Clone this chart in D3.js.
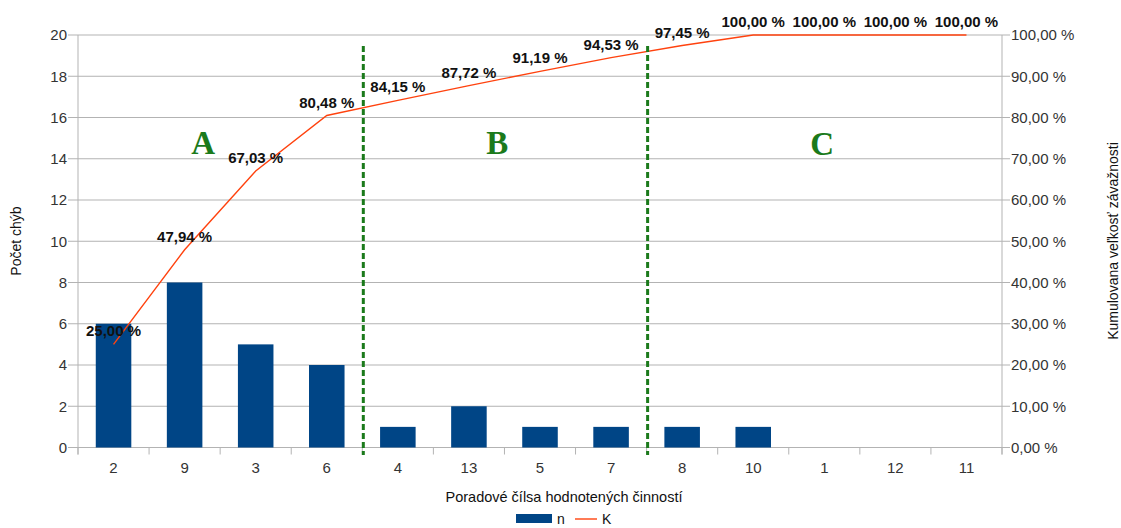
<!DOCTYPE html>
<html><head><meta charset="utf-8">
<script src="https://cdn.jsdelivr.net/npm/d3@7"></script>
<style>body{margin:0;background:#fff}svg{display:block;font-family:"Liberation Sans",Arial,sans-serif}</style>
</head><body><svg id="c" width="1121" height="528"></svg>
<script>
const categories = ["2","9","3","6","4","13","5","7","8","10","1","12","11"];
const nValues = [6,8,5,4,1,2,1,1,1,1,0,0,0];
const kValues = [25.00,47.94,67.03,80.48,84.15,87.72,91.19,94.53,97.45,100.00,100.00,100.00,100.00];
const leftTicks = [0,2,4,6,8,10,12,14,16,18,20];
const rightTicks = [0,10,20,30,40,50,60,70,80,90,100];
const zones = [{label:"A", from:0, to:4},{label:"B", from:4, to:8},{label:"C", from:8, to:13}];
const zoneLabelPos = [{label:"A", at:1.76, v:14.25},{label:"B", at:5.9, v:14.25},{label:"C", at:10.47, v:14.2}];

const svg = d3.select("#c");
const L = 78, R = 1002, T = 35, B = 447.5;
const x = d3.scaleBand().domain(categories).range([L,R]).paddingInner(0.5).paddingOuter(0.25);
const xb = d3.scaleLinear().domain([0,categories.length]).range([L,R]);
const y = d3.scaleLinear().domain([0,20]).range([B,T]);
const y2 = d3.scaleLinear().domain([0,100]).range([B,T]);
const grid = "#b3b3b3", txt = "#333";
const fmt = v => d3.format(".2f")(v).replace(".", ",") + " %";

// gridlines
svg.append("g").selectAll("line").data(leftTicks).join("line")
  .attr("x1", L-10).attr("x2", R).attr("y1", d=>y(d)).attr("y2", d=>y(d))
  .attr("stroke", grid).attr("stroke-width",1);
// right ticks
svg.append("g").selectAll("line").data(rightTicks).join("line")
  .attr("x1", R).attr("x2", R+8).attr("y1", d=>y2(d)).attr("y2", d=>y2(d))
  .attr("stroke", grid);
// axes lines
svg.append("line").attr("x1",L).attr("x2",L).attr("y1",T).attr("y2",B+7).attr("stroke",grid);
svg.append("line").attr("x1",R).attr("x2",R).attr("y1",T).attr("y2",B+7).attr("stroke",grid);
// x ticks at boundaries
svg.append("g").selectAll("line").data(d3.range(categories.length+1)).join("line")
  .attr("x1", d=>xb(d)).attr("x2", d=>xb(d)).attr("y1", B).attr("y2", B+7).attr("stroke", grid);

// left labels
svg.append("g").selectAll("text").data(leftTicks).join("text")
  .attr("x", L-11).attr("y", d=>y(d)).attr("dy","0.35em").attr("text-anchor","end")
  .attr("font-size",15).attr("fill",txt).text(d=>d);
// right labels
svg.append("g").selectAll("text").data(rightTicks).join("text")
  .attr("x", R+9).attr("y", d=>y2(d)).attr("dy","0.35em")
  .attr("font-size",15).attr("fill",txt).text(d=>fmt(d));
// x labels
svg.append("g").selectAll("text").data(categories).join("text")
  .attr("x", d=>x(d)+x.bandwidth()/2).attr("y", 473).attr("text-anchor","middle")
  .attr("font-size",15).attr("fill",txt).text(d=>d);

// bars
svg.append("g").selectAll("rect").data(categories.map((c,i)=>({c,v:nValues[i]}))).join("rect")
  .attr("x", d=>x(d.c)).attr("width", x.bandwidth())
  .attr("y", d=>y(d.v)).attr("height", d=>y(0)-y(d.v))
  .attr("fill","#004586");

// line
const pts = categories.map((c,i)=>({c,v:kValues[i]}));
svg.append("path").datum(pts)
  .attr("d", d3.line().x(d=>x(d.c)+x.bandwidth()/2).y(d=>y2(d.v)))
  .attr("fill","none").attr("stroke","#ff420e").attr("stroke-width",1.4);

// dashed zone separators
zones.slice(1).forEach(z=>{
  svg.append("line").attr("x1", xb(z.from)+1).attr("x2", xb(z.from)+1)
    .attr("y1", 46).attr("y2", 455)
    .attr("stroke","#1b7a1b").attr("stroke-width",3).attr("stroke-dasharray","6,3");
});

// data labels
svg.append("g").selectAll("text").data(pts).join("text")
  .attr("x", d=>x(d.c)+x.bandwidth()/2).attr("y", d=>y2(d.v)-8)
  .attr("text-anchor","middle").attr("font-size",15).attr("font-weight","bold")
  .attr("fill","#111").text(d=>fmt(d.v));

// zone letters
svg.append("g").selectAll("text").data(zoneLabelPos).join("text")
  .attr("x", d=>xb(d.at)).attr("y", d=>y(d.v))
  .attr("text-anchor","middle").attr("font-family","'Liberation Serif',serif")
  .attr("font-weight","bold").attr("font-size",33).attr("fill","#1b7a1b").text(d=>d.label);

// axis titles
svg.append("text").attr("transform","translate(21,241) rotate(-90)").attr("text-anchor","middle")
  .attr("font-size",14).attr("fill","#111").text("Počet chýb");
svg.append("text").attr("transform","translate(1118,241) rotate(-90)").attr("text-anchor","middle")
  .attr("font-size",14).attr("fill","#111").text("Kumulovana veľkosť závažnosti");
svg.append("text").attr("x",564).attr("y",502).attr("text-anchor","middle")
  .attr("font-size",14.5).attr("fill","#111").text("Poradové čílsa hodnotených činností");

// legend
const lg = svg.append("g");
lg.append("rect").attr("x",516).attr("y",514).attr("width",36).attr("height",9).attr("fill","#004586");
lg.append("text").attr("x",557).attr("y",524).attr("font-size",14).attr("fill","#111").text("n");
lg.append("line").attr("x1",575).attr("x2",597).attr("y1",519).attr("y2",519).attr("stroke","#ff420e").attr("stroke-width",1.4);
lg.append("text").attr("x",602).attr("y",524).attr("font-size",14).attr("fill","#111").text("K");
</script></body></html>
